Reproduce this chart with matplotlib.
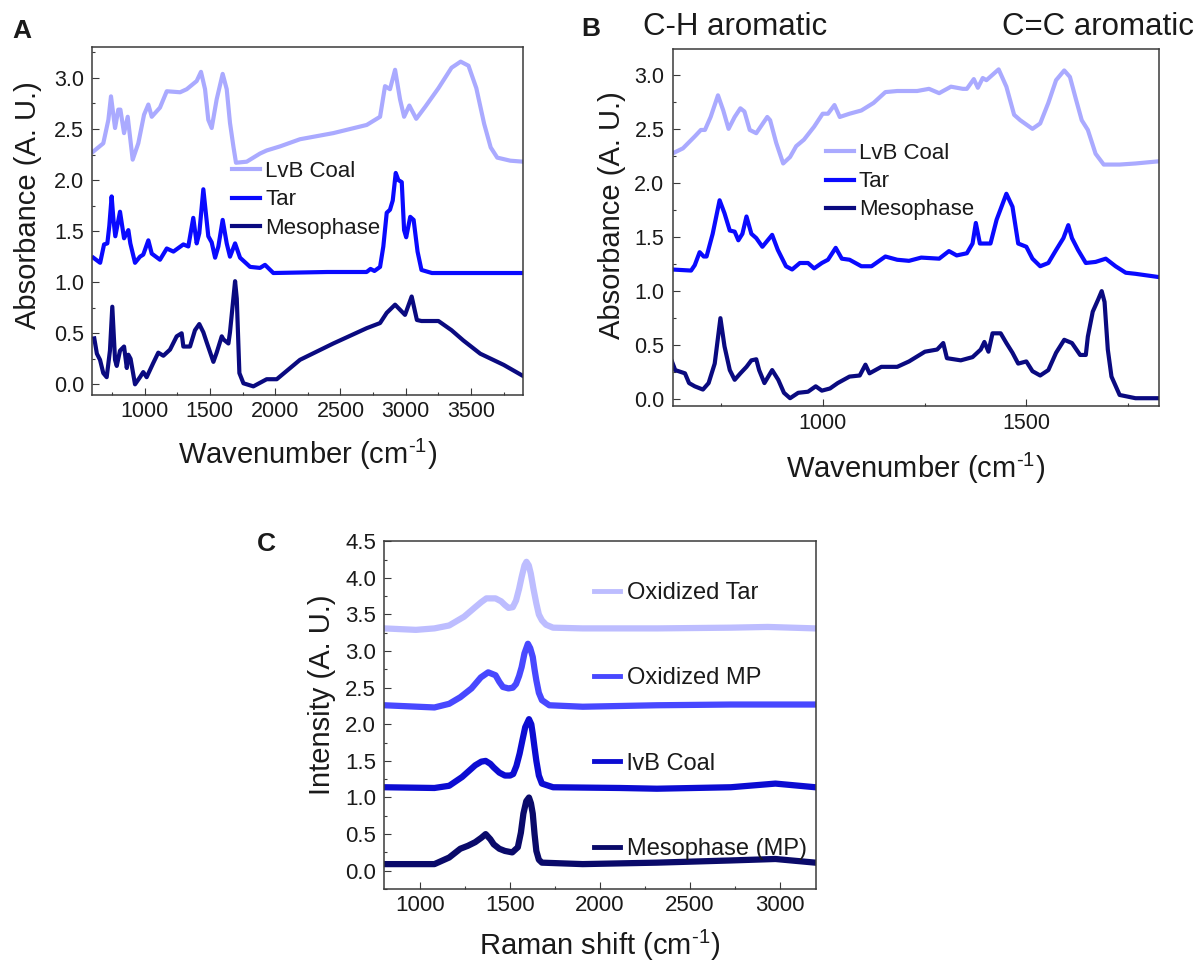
import matplotlib
matplotlib.use("Agg")
import matplotlib.pyplot as plt
from matplotlib.ticker import MultipleLocator

plt.rcParams['font.family'] = ['Liberation Sans', 'DejaVu Sans']
plt.rcParams['mathtext.fontset'] = 'custom'
plt.rcParams['mathtext.rm'] = 'Liberation Sans'
plt.rcParams['mathtext.default'] = 'regular'

# ---------------- Panel A (FTIR full range) ----------------
a_coal_x = [608, 684, 723, 743, 774, 799, 815, 843, 871, 909, 952, 996, 1029, 1055, 1118, 1170,
            1272, 1323, 1399, 1432, 1463, 1488, 1514, 1552, 1598, 1629, 1654, 1680, 1700, 1782,
            1884, 1935, 2037, 2190, 2445, 2701, 2803, 2841, 2879, 2918, 2956, 2987, 3027, 3080,
            3150, 3250, 3350, 3420, 3480, 3540, 3600, 3650, 3700, 3800, 3900]
a_coal_y = [2.28, 2.36, 2.59, 2.82, 2.51, 2.69, 2.69, 2.46, 2.62, 2.20, 2.36, 2.64, 2.74, 2.62, 2.71, 2.87,
            2.86, 2.89, 2.97, 3.06, 2.89, 2.59, 2.51, 2.79, 3.04, 2.89, 2.56, 2.33, 2.17, 2.18,
            2.26, 2.29, 2.33, 2.40, 2.46, 2.54, 2.62, 2.92, 2.89, 3.08, 2.79, 2.62, 2.73, 2.60,
            2.72, 2.90, 3.10, 3.16, 3.12, 2.90, 2.55, 2.32, 2.22, 2.19, 2.18]

a_tar_x = [608, 660, 690, 715, 730, 748, 762, 776, 812, 843, 876, 891, 927, 965, 990, 1029, 1055,
           1118, 1170, 1221, 1297, 1335, 1373, 1399, 1419, 1450, 1488, 1514, 1540, 1565, 1598, 1629,
           1654, 1693, 1731, 1808, 1884, 1922, 1986, 2400, 2700, 2730, 2760, 2803, 2828, 2854,
           2879, 2900, 2923, 2943, 2969, 2987, 3003, 3034, 3060, 3090, 3120, 3200, 3900]
a_tar_y = [1.24, 1.19, 1.37, 1.38, 1.55, 1.84, 1.61, 1.45, 1.69, 1.43, 1.51, 1.38, 1.19, 1.25, 1.27, 1.41, 1.28,
           1.22, 1.33, 1.30, 1.37, 1.35, 1.63, 1.38, 1.48, 1.91, 1.45, 1.39, 1.24, 1.35, 1.61, 1.38,
           1.25, 1.38, 1.24, 1.15, 1.14, 1.17, 1.09, 1.10, 1.10, 1.13, 1.11, 1.15, 1.35, 1.68,
           1.71, 1.80, 2.07, 2.00, 1.98, 1.51, 1.44, 1.64, 1.61, 1.30, 1.12, 1.09, 1.09]

a_meso_x = [615, 635, 659, 684, 710, 735, 753, 774, 787, 812, 843, 864, 876, 893, 927, 965, 990, 1016,
            1067, 1105, 1144, 1195, 1246, 1284, 1297, 1348, 1386, 1419, 1450, 1476, 1527, 1552, 1591,
            1604, 1642, 1654, 1693, 1706, 1726, 1757, 1833, 1935, 2012, 2190, 2445, 2701, 2803,
            2854, 2918, 2956, 2994, 3045, 3085, 3120, 3250, 3350, 3440, 3570, 3750, 3900]
a_meso_y = [0.45, 0.30, 0.24, 0.11, 0.07, 0.33, 0.76, 0.24, 0.18, 0.33, 0.37, 0.16, 0.29, 0.25, 0.00, 0.07, 0.12, 0.07,
            0.21, 0.31, 0.28, 0.34, 0.47, 0.50, 0.37, 0.37, 0.53, 0.59, 0.51, 0.41, 0.22, 0.31, 0.47,
            0.44, 0.40, 0.51, 1.01, 0.84, 0.11, 0.01, -0.02, 0.05, 0.05, 0.24, 0.40, 0.55, 0.60,
            0.70, 0.78, 0.73, 0.68, 0.86, 0.63, 0.62, 0.62, 0.53, 0.43, 0.30, 0.19, 0.08]

# ---------------- Panel B (FTIR zoom) ----------------
b_coal_x = [630, 657, 686, 701, 711, 725, 743, 756, 769, 784, 798, 808, 821, 837, 864, 871, 886, 903,
            920, 935, 954, 979, 1000, 1013, 1029, 1042, 1066, 1095, 1125, 1154, 1183, 1232, 1261,
            1286, 1315, 1344, 1354, 1371, 1381, 1393, 1402, 1417, 1432, 1451, 1470, 1485, 1515,
            1534, 1554, 1573, 1593, 1607, 1622, 1636, 1651, 1670, 1690, 1729, 1768, 1825]
b_coal_y = [2.27, 2.32, 2.43, 2.49, 2.49, 2.61, 2.81, 2.67, 2.50, 2.61, 2.69, 2.66, 2.49, 2.46, 2.61, 2.58, 2.37, 2.18,
            2.24, 2.34, 2.40, 2.52, 2.64, 2.64, 2.72, 2.61, 2.64, 2.67, 2.74, 2.84, 2.85, 2.85, 2.87,
            2.83, 2.89, 2.87, 2.87, 2.96, 2.88, 2.97, 2.95, 3.00, 3.05, 2.89, 2.63, 2.58, 2.50,
            2.55, 2.74, 2.95, 3.04, 2.98, 2.77, 2.58, 2.49, 2.27, 2.17, 2.17, 2.18, 2.20]

b_tar_x = [630, 677, 686, 698, 708, 715, 730, 747, 759, 772, 784, 793, 803, 813, 825, 837, 852, 876,
           890, 910, 925, 944, 964, 979, 998, 1013, 1032, 1047, 1066, 1095, 1120, 1154, 1183, 1212,
           1242, 1286, 1310, 1329, 1354, 1368, 1376, 1386, 1412, 1427, 1451, 1466, 1480, 1500,
           1515, 1534, 1554, 1573, 1591, 1603, 1612, 1627, 1646, 1670, 1695, 1719, 1744, 1768, 1825]
b_tar_y = [1.20, 1.19, 1.24, 1.36, 1.32, 1.32, 1.53, 1.84, 1.72, 1.56, 1.55, 1.47, 1.53, 1.69, 1.53, 1.49, 1.41, 1.52,
           1.38, 1.23, 1.20, 1.26, 1.26, 1.21, 1.26, 1.29, 1.40, 1.30, 1.29, 1.23, 1.23, 1.32, 1.29, 1.28,
           1.31, 1.30, 1.37, 1.33, 1.35, 1.44, 1.63, 1.44, 1.44, 1.66, 1.90, 1.78, 1.44, 1.41,
           1.30, 1.23, 1.26, 1.38, 1.49, 1.61, 1.49, 1.38, 1.26, 1.27, 1.30, 1.23, 1.17, 1.16, 1.13]

b_meso_x = [630, 638, 662, 672, 686, 706, 720, 735, 749, 759, 772, 784, 798, 813, 825, 837, 844, 857,
            876, 891, 905, 920, 940, 964, 983, 998, 1018, 1037, 1066, 1091, 1105, 1115, 1144, 1183,
            1212, 1251, 1281, 1296, 1305, 1339, 1368, 1388, 1397, 1407, 1417, 1437, 1451, 1466,
            1480, 1500, 1515, 1534, 1554, 1573, 1593, 1612, 1632, 1646, 1651, 1663, 1676, 1685,
            1692, 1700, 1709, 1729, 1768, 1825]
b_meso_y = [0.35, 0.27, 0.24, 0.15, 0.12, 0.09, 0.15, 0.33, 0.75, 0.49, 0.27, 0.18, 0.24, 0.30, 0.36, 0.37, 0.27, 0.15,
            0.27, 0.18, 0.06, 0.01, 0.06, 0.07, 0.12, 0.08, 0.10, 0.15, 0.21, 0.22, 0.32, 0.24, 0.30, 0.30,
            0.35, 0.44, 0.46, 0.52, 0.38, 0.36, 0.39, 0.46, 0.53, 0.44, 0.61, 0.61, 0.52, 0.43,
            0.33, 0.35, 0.26, 0.22, 0.27, 0.43, 0.55, 0.52, 0.41, 0.41, 0.58, 0.81, 0.92, 1.00,
            0.90, 0.46, 0.21, 0.04, 0.01, 0.01]

# ---------------- Panel C (Raman) ----------------
c_oxtar_x = [800, 976, 1079, 1161, 1244, 1306, 1340, 1368, 1419, 1450, 1471, 1491, 1515, 1533, 1550,
             1564, 1580, 1591, 1604, 1615, 1630, 1646, 1660, 1677, 1700, 1739, 1904, 2317, 2728, 2934, 3198]
c_oxtar_y = [3.31, 3.29, 3.31, 3.35, 3.47, 3.60, 3.67, 3.72, 3.72, 3.68, 3.63, 3.59, 3.60, 3.69, 3.85,
             4.01, 4.17, 4.22, 4.17, 4.06, 3.85, 3.65, 3.50, 3.42, 3.36, 3.32, 3.31, 3.31, 3.32, 3.33, 3.31]

c_oxmp_x = [800, 1079, 1161, 1223, 1285, 1337, 1378, 1419, 1440, 1460, 1491, 1515, 1533, 1550, 1564,
            1580, 1599, 1612, 1626, 1636, 1646, 1660, 1677, 1718, 1904, 2317, 2728, 3198]
c_oxmp_y = [2.26, 2.23, 2.28, 2.37, 2.49, 2.64, 2.71, 2.67, 2.58, 2.51, 2.49, 2.50, 2.55, 2.66, 2.78,
            2.97, 3.10, 3.04, 2.92, 2.75, 2.60, 2.43, 2.33, 2.26, 2.24, 2.26, 2.27, 2.27]

c_coal_x = [800, 1079, 1161, 1233, 1306, 1340, 1364, 1390, 1409, 1440, 1471, 1500, 1517, 1535, 1553,
            1570, 1584, 1605, 1618, 1626, 1636, 1646, 1660, 1677, 1739, 2110, 2317, 2728, 2976, 3198]
c_coal_y = [1.14, 1.13, 1.16, 1.28, 1.44, 1.49, 1.50, 1.46, 1.41, 1.34, 1.30, 1.30, 1.32, 1.43, 1.60,
            1.80, 1.96, 2.07, 2.00, 1.87, 1.68, 1.50, 1.30, 1.19, 1.14, 1.13, 1.12, 1.14, 1.19, 1.14]

c_meso_x = [800, 1079, 1161, 1223, 1265, 1306, 1340, 1364, 1390, 1409, 1440, 1471, 1512, 1543, 1560,
            1574, 1590, 1605, 1616, 1626, 1636, 1646, 1660, 1677, 1904, 2317, 2728, 2976, 3198]
c_meso_y = [0.09, 0.09, 0.18, 0.30, 0.34, 0.39, 0.45, 0.50, 0.43, 0.36, 0.30, 0.27, 0.25, 0.32, 0.52,
            0.78, 0.95, 1.00, 0.92, 0.78, 0.50, 0.27, 0.15, 0.11, 0.09, 0.11, 0.14, 0.16, 0.11]

labels_ftir = ['LvB Coal', 'Tar', 'Mesophase']
labels_raman = ['Oxidized Tar', 'Oxidized MP', 'lvB Coal', 'Mesophase (MP)']

col_coal = '#AAAAFF'
col_tar = '#0A0AFF'
col_meso = '#0A0A80'
col_c = ['#BDBDFF', '#4848FF', '#0C0CD2', '#0A0A6A']

FRAME = '#3a3a3a'
TXT = '#1a1a1a'
UNIT = r' (cm$^{\text{-}1}$)'


def style(ax, lsize=15.5):
    for s in ax.spines.values():
        s.set_color(FRAME)
        s.set_linewidth(1.1)
    ax.tick_params(which='both', direction='in', top=False, right=False, colors=FRAME,
                   labelcolor=TXT, labelsize=lsize, width=0.8)
    ax.tick_params(which='major', length=4.8)
    ax.tick_params(which='minor', length=2.4)
    ax.tick_params(axis='x', pad=4.5)
    ax.tick_params(axis='y', pad=6)


fig = plt.figure(figsize=(12.02, 9.64), dpi=100)

# Panel A
axA = fig.add_axes([0.0768, 0.5902, 0.3586, 0.3607])
lA1, = axA.plot(a_coal_x, a_coal_y, color=col_coal, lw=3)
lA2, = axA.plot(a_tar_x, a_tar_y, color=col_tar, lw=3)
lA3, = axA.plot(a_meso_x, a_meso_y, color=col_meso, lw=3)
axA.set_xlim(600, 3900)
axA.set_ylim(-0.105, 3.3)
axA.xaxis.set_major_locator(MultipleLocator(500))
axA.xaxis.set_minor_locator(MultipleLocator(250))
axA.yaxis.set_major_locator(MultipleLocator(0.5))
axA.yaxis.set_minor_locator(MultipleLocator(0.25))
style(axA)
axA.set_xlabel('Wavenumber' + UNIT, fontsize=21, color=TXT)
axA.set_ylabel('Absorbance (A. U.)', fontsize=21, color=TXT)
axA.yaxis.set_label_coords(-0.117, 0.546)
axA.xaxis.set_label_coords(0.5, -0.12)
axA.legend([lA1, lA2, lA3], labels_ftir, loc='upper left', bbox_to_anchor=(0.324, 0.673),
           frameon=False, borderpad=0, borderaxespad=0, handlelength=1.26, handletextpad=0.23,
           labelspacing=0.33, fontsize=16, labelcolor=TXT)

# Panel B
axB = fig.add_axes([0.5597, 0.5785, 0.4043, 0.3703])
lB1, = axB.plot(b_coal_x, b_coal_y, color=col_coal, lw=3)
lB2, = axB.plot(b_tar_x, b_tar_y, color=col_tar, lw=3)
lB3, = axB.plot(b_meso_x, b_meso_y, color=col_meso, lw=3)
axB.set_xlim(632, 1825)
axB.set_ylim(-0.065, 3.235)
axB.xaxis.set_major_locator(MultipleLocator(500))
axB.xaxis.set_minor_locator(MultipleLocator(250))
axB.yaxis.set_major_locator(MultipleLocator(0.5))
axB.yaxis.set_minor_locator(MultipleLocator(0.25))
style(axB)
axB.set_xlabel('Wavenumber' + UNIT, fontsize=21, color=TXT)
axB.set_ylabel('Absorbance (A. U.)', fontsize=21, color=TXT)
axB.yaxis.set_label_coords(-0.096, 0.536)
axB.xaxis.set_label_coords(0.5, -0.125)
axB.legend([lB1, lB2, lB3], labels_ftir, loc='upper left', bbox_to_anchor=(0.315, 0.737),
           frameon=False, borderpad=0, borderaxespad=0, handlelength=1.26, handletextpad=0.22,
           labelspacing=0.32, fontsize=16, labelcolor=TXT)

# Panel C
axC = fig.add_axes([0.3197, 0.0778, 0.3589, 0.3607])
lines_c = []
for xs, ys, c in zip([c_oxtar_x, c_oxmp_x, c_coal_x, c_meso_x],
                     [c_oxtar_y, c_oxmp_y, c_coal_y, c_meso_y], col_c):
    ln, = axC.plot(xs, ys, color=c, lw=4.5, solid_joinstyle='round')
    lines_c.append(ln)
axC.set_xlim(800, 3200)
axC.set_ylim(-0.25, 4.5)
axC.xaxis.set_major_locator(MultipleLocator(500))
axC.xaxis.set_minor_locator(MultipleLocator(250))
axC.yaxis.set_major_locator(MultipleLocator(0.5))
axC.yaxis.set_minor_locator(MultipleLocator(0.25))
style(axC, 16)
axC.set_xlabel('Raman shift' + UNIT, fontsize=21, color=TXT)
axC.set_ylabel('Intensity (A. U.)', fontsize=21, color=TXT)
axC.yaxis.set_label_coords(-0.112, 0.558)
axC.xaxis.set_label_coords(0.5, -0.112)
legC = axC.legend(lines_c, labels_raman, loc='upper left', bbox_to_anchor=(0.485, 0.883),
                  frameon=False, borderpad=0, borderaxespad=0, handlelength=1.13, handletextpad=0.28,
                  labelspacing=2.68, fontsize=17, labelcolor=TXT)
for h in legC.get_lines():
    h.set_linewidth(3.5)

# Panel letters and annotations
fig.text(12 / 1202, 1 - 38 / 964, 'A', fontsize=19, fontweight='bold', color=TXT)
fig.text(581 / 1202, 1 - 36 / 964, 'B', fontsize=19, fontweight='bold', color=TXT)
fig.text(257 / 1202, 1 - 551 / 964, 'C', fontsize=19, fontweight='bold', color=TXT)
fig.text(643 / 1202, 1 - 35 / 964, 'C-H aromatic', fontsize=22.5, color=TXT)
fig.text(1002 / 1202, 1 - 35 / 964, 'C=C aromatic', fontsize=22.5, color=TXT)

fig.savefig('out.png', dpi=100)
